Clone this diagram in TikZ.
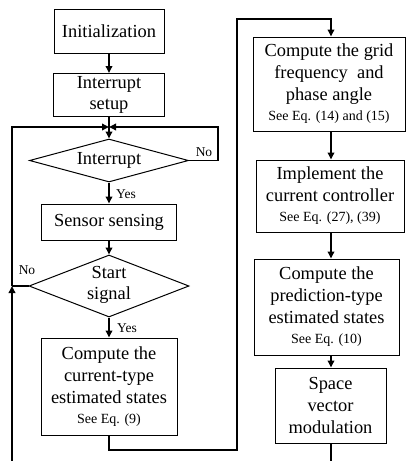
\documentclass[tikz,border=0pt]{standalone}
\usepackage{fontspec}
\setmainfont{Liberation Serif}
\usetikzlibrary{arrows.meta,shapes.geometric,calc}
\newcommand\mainsz{\fontsize{18.4}{22}\selectfont}
\newcommand\eqsz{\fontsize{14}{17}\selectfont}
\newcommand\lblsz{\fontsize{13.5}{16}\selectfont}
\begin{document}
\begin{tikzpicture}[x=1pt,y=-1pt,
  box/.style={draw, line width=1pt, inner sep=0pt, align=center, font=\mainsz},
  dia/.style={draw, diamond, line width=1pt, inner sep=0pt},
  dtext/.style={inner sep=0pt, align=center, font=\mainsz},
  conn/.style={line width=1.8pt},
  arr/.style={conn, -{Triangle[length=7pt,width=6.5pt]}},
  lbl/.style={font=\lblsz, inner sep=0pt}]
\useasboundingbox (0,0) rectangle (407,461);
% left column
\node[box, minimum width=110pt, minimum height=44pt] (init) at (109,31) {Initialization};
\node[box, minimum width=111pt, minimum height=43pt] (setup) at (109,95) {Interrupt\\[-1pt]setup};
\node[dia, minimum width=159pt, minimum height=43pt] (intr) at (109,160.5) {};
\node[dtext] (intrT) at (intr.center) {Interrupt};
\node[box, minimum width=135pt, minimum height=36pt] (sens) at (109,222) {Sensor sensing};
\node[dia, minimum width=160pt, minimum height=62pt] (start) at (109,286) {};
\node[dtext] (startT) at (109,285) {Start\\[-1pt]signal};
\node[box, minimum width=136pt, minimum height=97pt] (comp) at (109,386.5)
  {Compute the\\current-type\\estimated states\\[-2pt]{\eqsz See Eq. (9)}};
% right column
\node[box, minimum width=152pt, minimum height=94pt] (grid) at (329,84)
  {Compute the grid\\frequency~ and\\phase angle\\[-2pt]{\eqsz See Eq. (14) and (15)}};
\node[box, minimum width=148pt, minimum height=72pt] (ctrl) at (330,196)
  {Implement the\\current controller\\[-2pt]{\eqsz See Eq. (27), (39)}};
\node[box, minimum width=145pt, minimum height=96pt] (pred) at (326.5,307)
  {Compute the\\prediction-type\\estimated states\\[-2pt]{\eqsz See Eq. (10)}};
\node[box, minimum width=111pt, minimum height=75pt] (svm) at (330.5,405.5)
  {Space\\vector\\modulation};
% helper coordinates
\coordinate (j1) at (109,127);
\coordinate (tl) at (12,127);
\coordinate (jl) at (12,286);
\coordinate (bl) at (12,461);
\coordinate (nr1) at (218,160.5);
\coordinate (nr2) at (218,127);
\coordinate (cb) at (109,450);
\coordinate (rb) at (237,450);
\coordinate (rt) at (237,19);
\coordinate (ct) at (331,19);
\coordinate (colx) at (331,0);
\coordinate (br) at (331,461);
% connectors left
\draw[arr] (init) -- (setup);
\draw[conn] (setup.south) -- (j1);
\draw[arr] (j1) -- (intr.north);
\draw[arr] (intr.east) -- (nr1) -- (nr2) -- (j1);
\draw[arr] (intr.south) -- (sens.north);
\draw[arr] (sens.south) -- (start.north);
\draw[arr] (start.south) -- (comp.north);
\draw[conn] (start.west) -- (jl);
\draw[arr] (bl) -- (jl);
\draw[arr] (jl) -- (tl) -- (j1);
\draw[arr] (comp.south) -- (cb) -- (rb) -- (rt) -- (ct) -- (grid.north -| colx);
% connectors right
\draw[arr] (grid.south -| colx) -- (ctrl.north -| colx);
\draw[arr] (ctrl.south -| colx) -- (pred.north -| colx);
\draw[arr] (pred.south -| colx) -- (svm.north -| colx);
\draw[conn] (svm.south -| colx) -- (br);
% labels
\node[lbl] (no1) at (204,152) {No};
\node[lbl] (yes1) at (126,194) {Yes};
\node[lbl] (no2) at (27,270) {No};
\node[lbl] (yes2) at (127,328) {Yes};
\end{tikzpicture}
\end{document}
